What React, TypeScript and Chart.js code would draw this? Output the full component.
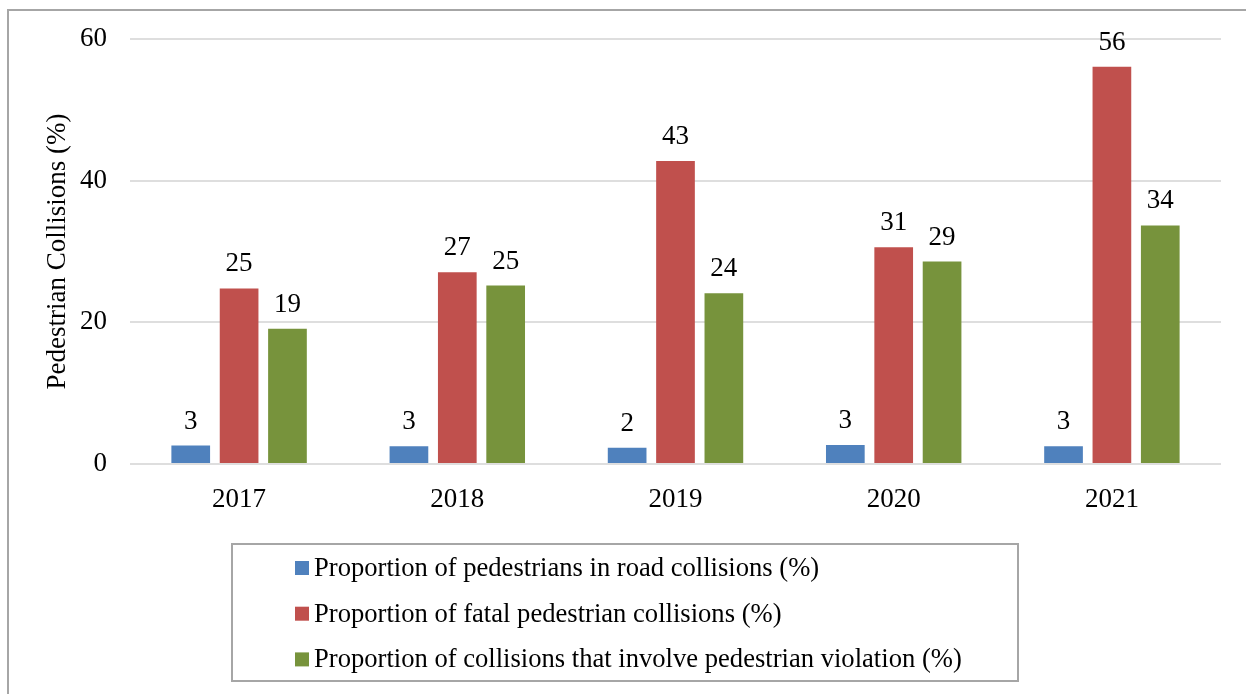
import React, { useEffect, useRef } from "react";
import { Chart, registerables } from "chart.js";

Chart.register(...registerables);

// Years on the category axis
const years = ["2017", "2018", "2019", "2020", "2021"];

// Series values (%)
const pedestrianShare = [2.6, 2.5, 2.3, 2.7, 2.5];
const fatalShare = [24.8, 27.1, 42.8, 30.6, 56.1];
const violationShare = [19.1, 25.2, 24.1, 28.6, 33.7];

const seriesNames = [
  "Proportion of pedestrians in road collisions (%)",
  "Proportion of fatal pedestrian collisions (%)",
  "Proportion of collisions that involve pedestrian violation (%)",
];
const seriesColors = ["#4f81bd", "#c0504d", "#77933c"];

const yTicks = [0, 20, 40, 60];
const yTitle = "Pedestrian Collisions (%)";

const FONT = '"Liberation Serif", "Times New Roman", serif';
const FONT_SIZE = 27;
const LEGEND_FONT_SIZE = 26.6;
const W = 1246;
const H = 694;

// Rounded value labels above each bar
const valueLabels = {
  id: "valueLabels",
  afterDatasetsDraw(chart: any) {
    const { ctx } = chart;
    ctx.save();
    ctx.font = `${FONT_SIZE}px ${FONT}`;
    ctx.fillStyle = "#000";
    ctx.textAlign = "center";
    ctx.textBaseline = "alphabetic";
    chart.data.datasets.forEach((ds: any, i: number) => {
      const meta = chart.getDatasetMeta(i);
      meta.data.forEach((bar: any, j: number) => {
        ctx.fillText(String(Math.round(ds.data[j])), bar.x, bar.y - 17);
      });
    });
    ctx.restore();
  },
};

// Boxed legend under the plot, one series per row
const boxedLegend = {
  id: "boxedLegend",
  afterDraw(chart: any) {
    const { ctx } = chart;
    const box = { x: 232, y: 544, w: 786, h: 137 };
    ctx.save();
    ctx.strokeStyle = "#a6a6a6";
    ctx.lineWidth = 2;
    ctx.strokeRect(box.x, box.y, box.w, box.h);
    ctx.font = `${LEGEND_FONT_SIZE}px ${FONT}`;
    ctx.textAlign = "left";
    ctx.textBaseline = "alphabetic";
    chart.data.datasets.forEach((ds: any, i: number) => {
      const baseline = 576 + i * 45.7;
      ctx.fillStyle = ds.backgroundColor;
      ctx.fillRect(295, baseline - 15, 14, 14);
      ctx.fillStyle = "#000";
      ctx.fillText(ds.label, 314, baseline);
    });
    ctx.restore();
  },
};

export default function App() {
  const canvasRef = useRef<HTMLCanvasElement | null>(null);

  useEffect(() => {
    const canvas = canvasRef.current;
    if (!canvas) return;
    const values = [pedestrianShare, fatalShare, violationShare];
    const chart = new Chart(canvas, {
      type: "bar",
      data: {
        labels: years,
        datasets: values.map((data, i) => ({
          label: seriesNames[i],
          data,
          backgroundColor: seriesColors[i],
          borderWidth: 0,
          categoryPercentage: 0.665,
          barPercentage: 0.8,
        })),
      },
      options: {
        animation: false,
        responsive: false,
        maintainAspectRatio: false,
        devicePixelRatio: 1,
        layout: { padding: { top: 37, right: 25, bottom: 180, left: 0 } },
        plugins: {
          legend: { display: false },
          tooltip: { enabled: false },
          title: { display: false },
        },
        scales: {
          x: {
            grid: { display: false },
            border: { display: false },
            ticks: {
              color: "#000",
              font: { family: FONT, size: FONT_SIZE },
              padding: 12,
            },
            afterFit: (scale: any) => {
              scale.height = 50;
            },
          },
          y: {
            min: 0,
            max: 60,
            afterBuildTicks: (scale: any) => {
              scale.ticks = yTicks.map((v) => ({ value: v }));
            },
            grid: {
              color: "#dedede",
              lineWidth: 2,
              drawTicks: false,
            },
            border: { display: false },
            ticks: {
              color: "#000",
              font: { family: FONT, size: FONT_SIZE },
              padding: 23,
            },
            title: {
              display: true,
              text: yTitle,
              color: "#000",
              font: { family: FONT, size: FONT_SIZE },
              padding: { top: 42, bottom: 0 },
            },
            afterFit: (scale: any) => {
              scale.width = 130;
            },
          },
        },
      },
      plugins: [valueLabels, boxedLegend],
    });
    return () => chart.destroy();
  }, []);

  return (
    <div
      style={{
        position: "fixed",
        left: 0,
        top: 0,
        width: W,
        height: H,
        background: "#fff",
        overflow: "hidden",
      }}
    >
      <div
        style={{
          position: "absolute",
          left: 7,
          top: 9,
          width: W,
          height: H,
          borderTop: "2px solid #a6a6a6",
          borderLeft: "2px solid #a6a6a6",
        }}
      />
      <canvas
        ref={canvasRef}
        width={W}
        height={H}
        style={{ position: "absolute", left: 0, top: 0, width: W, height: H }}
      />
    </div>
  );
}
